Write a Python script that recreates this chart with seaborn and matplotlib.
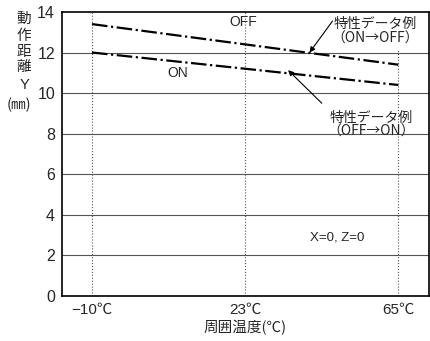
import numpy as np
import pandas as pd
import matplotlib
matplotlib.use("Agg")
import matplotlib.pyplot as plt
import seaborn as sns

# ── Data ───────────────────────────────────────────────────────────────────────
temp_labels = ["\u221210\u2103", "23\u2103", "65\u2103"]
temp_pos = [0, 2]               # line endpoints at -10 and 65 deg C
off_values = [13.4, 11.4]       # ON -> OFF distance (mm)
on_values = [12.0, 10.4]        # OFF -> ON distance (mm)
y_ticks = [0, 2, 4, 6, 8, 10, 12, 14]

sns.set_style("white")
plt.rcParams["font.family"] = ["Liberation Sans", "Noto Sans CJK JP", "DejaVu Sans"]
JP = ["Noto Sans CJK JP", "DejaVu Sans"]

df = pd.DataFrame({
    "pos": temp_pos * 2,
    "dist": off_values + on_values,
    "state": ["OFF"] * 2 + ["ON"] * 2,
})

fig = plt.figure(figsize=(4.30, 3.41), dpi=100)
ax = fig.add_axes([0.1442, 0.132, 0.8535, 0.833])

# grid
for y in y_ticks[1:-1]:
    ax.axhline(y, color="#555555", lw=0.8, zorder=1)
ax.axvline(0, color="#555555", lw=0.8, ls=":", zorder=1)
ax.axvline(1, color="#555555", lw=0.8, ls=":", zorder=1)
ax.vlines(2, 0, 12.1, color="#555555", lw=0.8, ls=":", zorder=1)

for state in ["OFF", "ON"]:
    sns.lineplot(data=df[df.state == state], x="pos", y="dist", ax=ax,
                 color="black", lw=1.6, linestyle=(0, (7, 1.6, 1, 1.6)),
                 zorder=3)

ax.set_xlim(-0.196, 2.2)
ax.set_ylim(0, 14)
ax.set_xticks([0, 1, 2])
ax.set_xticklabels(temp_labels, fontsize=11)
ax.set_yticks(y_ticks)
ax.set_yticklabels([str(v) for v in y_ticks], fontsize=11.5)
ax.tick_params(length=0, pad=5)
ax.set_xlabel("周囲温度(\u2103)", fontsize=10.5, labelpad=2, family=JP)
ax.set_ylabel("")
for s in ax.spines.values():
    s.set_color("black")
    s.set_linewidth(1.2)

# labels on lines
ax.text(0.99, 13.5, "OFF", fontsize=10, ha="center", va="center")
ax.text(0.56, 11.0, "ON", fontsize=10, ha="center", va="center")
ax.text(1.85, 13.05, "特性データ例\n（ON\u2192OFF）", fontsize=10, family=JP,
        ha="center", va="center", linespacing=1.0)
ax.annotate("", xy=(1.42, 12.0), xytext=(1.57, 13.55),
            arrowprops=dict(arrowstyle="-|>", color="black", lw=0.8,
                            mutation_scale=8, shrinkA=0, shrinkB=0))
ax.text(1.82, 8.45, "特性データ例\n（OFF\u2192ON）", fontsize=10, family=JP,
        ha="center", va="center", linespacing=1.0)
ax.annotate("", xy=(1.28, 11.13), xytext=(1.50, 9.5),
            arrowprops=dict(arrowstyle="-|>", color="black", lw=0.8,
                            mutation_scale=8, shrinkA=0, shrinkB=0))
ax.text(1.6, 2.9, "X=0, Z=0", fontsize=9.5, ha="center", va="center")

# y label (vertical stacked)
for ch, yp in zip(["動", "作", "距", "離", "Y"], [19, 36, 52, 67, 85]):
    fig.text(24 / 430, 1 - yp / 341, ch, fontsize=10.5,
             ha="center", va="center")
fig.text(19 / 430, 1 - 105 / 341, "(㎜)", fontsize=10.5, family=JP,
         ha="center", va="center")

fig.savefig("out.png", dpi=100)
